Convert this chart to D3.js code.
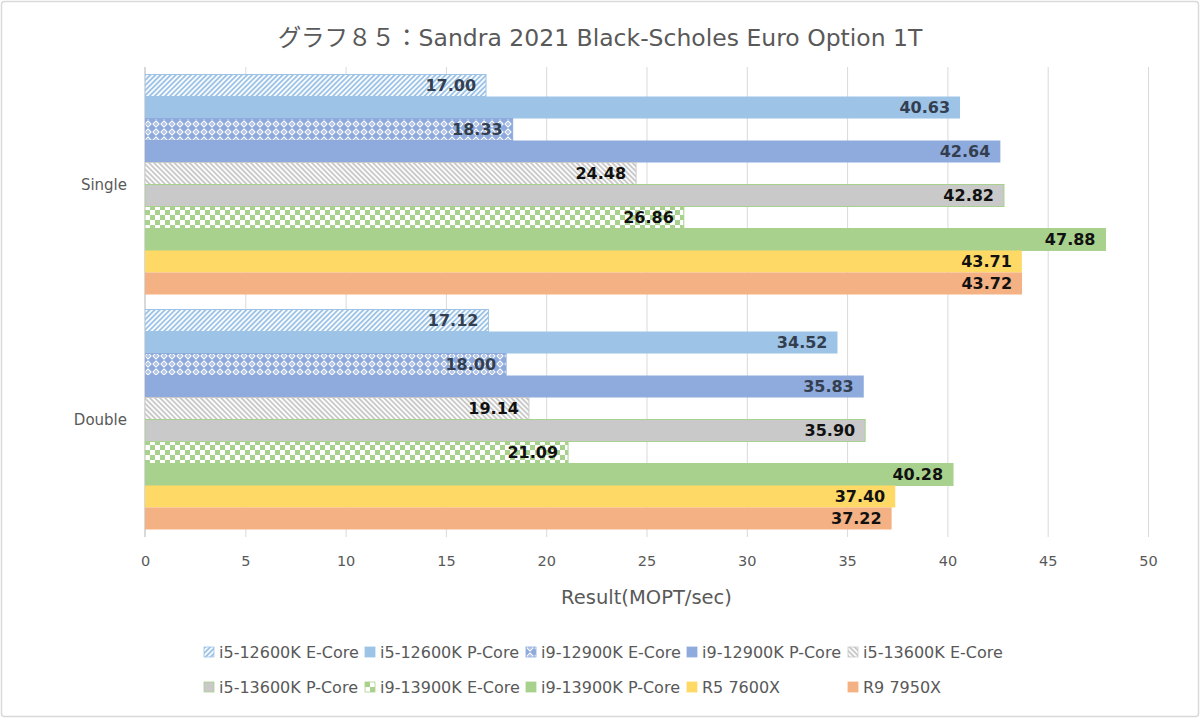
<!DOCTYPE html>
<html><head><meta charset="utf-8">
<script src="https://cdn.jsdelivr.net/npm/d3@7"></script>
<style>
html,body{margin:0;padding:0;background:#fff;}
svg{display:block;}
</style></head>
<body>
<svg id="chart" width="1200" height="718"></svg>
<script>
// ---- data ----
const categories = ["Single", "Double"];
const seriesNames = [
  "i5-12600K E-Core", "i5-12600K P-Core", "i9-12900K E-Core", "i9-12900K P-Core", "i5-13600K E-Core",
  "i5-13600K P-Core", "i9-13900K E-Core", "i9-13900K P-Core", "R5 7600X", "R9 7950X"
];
const singleValues = [17.00, 40.63, 18.33, 42.64, 24.48, 42.82, 26.86, 47.88, 43.71, 43.72];
const doubleValues = [17.12, 34.52, 18.00, 35.83, 19.14, 35.90, 21.09, 40.28, 37.40, 37.22];
const xTicks = [0, 5, 10, 15, 20, 25, 30, 35, 40, 45, 50];
const titleText = "グラフ８５：Sandra 2021 Black-Scholes Euro Option 1T";
const axisTitle = "Result(MOPT/sec)";

// ---- styles ----
const seriesStyle = [
  {fill: "url(#pUp)",     stroke: "#9DC3E6", label: "#333F50"},
  {fill: "#9DC3E6",       stroke: "none",    label: "#333F50"},
  {fill: "url(#pTrel)",   stroke: "#8FAADC", label: "#333F50"},
  {fill: "#8FAADC",       stroke: "none",    label: "#333F50"},
  {fill: "url(#pDown)",   stroke: "#C9C9C9", label: "#111111"},
  {fill: "#C9C9C9",       stroke: "#A9D18E", label: "#111111"},
  {fill: "url(#pCheck)",  stroke: "#A9D18E", label: "#111111"},
  {fill: "#A9D18E",       stroke: "#A9D18E", label: "#111111"},
  {fill: "#FFD966",       stroke: "none",    label: "#111111"},
  {fill: "#F4B183",       stroke: "none",    label: "#111111"}
];
const FONT = "'DejaVu Sans', 'Noto Sans CJK JP', sans-serif";

const svg = d3.select("#chart");
const W = 1200, H = 718;
const plot = {left: 145, right: 1148, top: 67, bottom: 537};

// border
svg.append("rect").attr("x", 1.5).attr("y", 1.5).attr("width", W - 3).attr("height", H - 3)
  .attr("fill", "#fff").attr("stroke", "#d9d9d9").attr("stroke-width", 1.5).attr("rx", 3);

// patterns
const defs = svg.append("defs");
function stripePattern(id, color, angle) {
  const p = defs.append("pattern").attr("id", id).attr("patternUnits", "userSpaceOnUse")
    .attr("width", 3.6).attr("height", 3.6).attr("patternTransform", `rotate(${angle})`);
  p.append("rect").attr("width", 3.6).attr("height", 3.6).attr("fill", "#fff");
  p.append("rect").attr("width", 1.9).attr("height", 3.6).attr("fill", color);
}
stripePattern("pUp", "#9DC3E6", 45);
stripePattern("pDown", "#C9C9C9", -45);
{
  const p = defs.append("pattern").attr("id", "pTrel").attr("patternUnits", "userSpaceOnUse")
    .attr("width", 8).attr("height", 8);
  p.append("rect").attr("width", 8).attr("height", 8).attr("fill", "#8FAADC");
  p.append("path").attr("d", "M4,1 L7,4 L4,7 L1,4 Z").attr("fill", "none").attr("stroke", "#fff").attr("stroke-width", 1.1);
  p.append("rect").attr("x", 3.4).attr("y", 3.4).attr("width", 1.2).attr("height", 1.2).attr("fill", "#fff");
}
{
  const p = defs.append("pattern").attr("id", "pCheck").attr("patternUnits", "userSpaceOnUse")
    .attr("width", 10).attr("height", 10);
  p.append("rect").attr("width", 10).attr("height", 10).attr("fill", "#A9D18E");
  p.append("rect").attr("x", 0).attr("y", 0).attr("width", 5).attr("height", 5).attr("fill", "#fff");
  p.append("rect").attr("x", 5).attr("y", 5).attr("width", 5).attr("height", 5).attr("fill", "#fff");
}

// scales
const x = d3.scaleLinear().domain([0, 50]).range([plot.left, plot.right]);
const y0 = d3.scaleBand().domain(categories).range([plot.top, plot.bottom])
  .paddingInner(0.064).paddingOuter(0.032);
const y1 = d3.scaleBand().domain(d3.range(seriesNames.length)).range([0, y0.bandwidth()]);

// gridlines
svg.append("g").selectAll("line").data(xTicks).join("line")
  .attr("x1", d => x(d) + 0.5).attr("x2", d => x(d) + 0.5)
  .attr("y1", plot.top).attr("y2", plot.bottom)
  .attr("stroke", "#d9d9d9").attr("stroke-width", 1);

// tick labels
const xAxis = d3.axisBottom(x).tickValues(xTicks).tickSize(0).tickPadding(0);
const gx = svg.append("g").attr("transform", `translate(0,${plot.bottom + 24})`).call(xAxis);
gx.select(".domain").remove();
gx.selectAll("text").attr("font-family", FONT)
  .attr("font-size", 14.5).attr("fill", "#595959").attr("dy", "0.35em");

// category labels
svg.append("g").selectAll("text").data(categories).join("text")
  .attr("x", 127).attr("y", d => y0(d) + y0.bandwidth() / 2)
  .attr("text-anchor", "end").attr("dy", "0.35em")
  .attr("font-family", FONT)
  .attr("font-size", 15).attr("fill", "#595959").text(d => d);

// bars
const rows = [];
categories.forEach((c, ci) => {
  const vals = ci === 0 ? singleValues : doubleValues;
  vals.forEach((v, si) => rows.push({c, si, v}));
});
const gBars = svg.append("g");
gBars.selectAll("rect").data(rows).join("rect")
  .attr("x", x(0))
  .attr("y", d => y0(d.c) + y1(d.si))
  .attr("width", d => x(d.v) - x(0))
  .attr("height", y1.bandwidth())
  .attr("fill", d => seriesStyle[d.si].fill)
  .attr("stroke", d => seriesStyle[d.si].stroke)
  .attr("stroke-width", 1);

// left axis line
svg.append("line").attr("x1", x(0) - 0.5).attr("x2", x(0) - 0.5)
  .attr("y1", plot.top).attr("y2", plot.bottom).attr("stroke", "#d9d9d9");

// data labels
gBars.selectAll("text").data(rows).join("text")
  .attr("x", d => x(d.v) - 10)
  .attr("y", d => y0(d.c) + y1(d.si) + y1.bandwidth() / 2)
  .attr("dy", "0.36em").attr("text-anchor", "end")
  .attr("font-family", "'DejaVu Sans', Verdana, sans-serif")
  .attr("font-weight", "bold").attr("font-size", 16)
  .attr("fill", d => seriesStyle[d.si].label)
  .text(d => d.v.toFixed(2));

// title
svg.append("text").attr("x", 600).attr("y", 38).attr("text-anchor", "middle").attr("dy", "0.35em")
  .attr("font-family", FONT).attr("font-size", 23.5)
  .attr("fill", "#595959").text(titleText);

// axis title
svg.append("text").attr("x", (plot.left + plot.right) / 2).attr("y", 597).attr("text-anchor", "middle")
  .attr("dy", "0.35em").attr("font-family", FONT)
  .attr("font-size", 19.5).attr("fill", "#595959").text(axisTitle);

// legend
const colX = d3.scaleLinear().domain([0, 1]).range([204, 365]);
const rowY = d3.scaleLinear().domain([0, 1]).range([652, 687]);
const lg = svg.append("g").selectAll("g").data(seriesNames).join("g")
  .attr("transform", (d, i) => `translate(${colX(i % 5)},${rowY(Math.floor(i / 5))})`);
lg.append("rect").attr("x", 0).attr("y", -5).attr("width", 10).attr("height", 10)
  .attr("fill", (d, i) => seriesStyle[i].fill)
  .attr("stroke", (d, i) => seriesStyle[i].stroke === "none" ? seriesStyle[i].fill : seriesStyle[i].stroke)
  .attr("stroke-width", 0.8);
lg.append("text").attr("x", 15).attr("y", 0).attr("dy", "0.35em")
  .attr("font-family", FONT)
  .attr("font-size", 16).attr("fill", "#595959").text(d => d);
</script>
</body></html>
